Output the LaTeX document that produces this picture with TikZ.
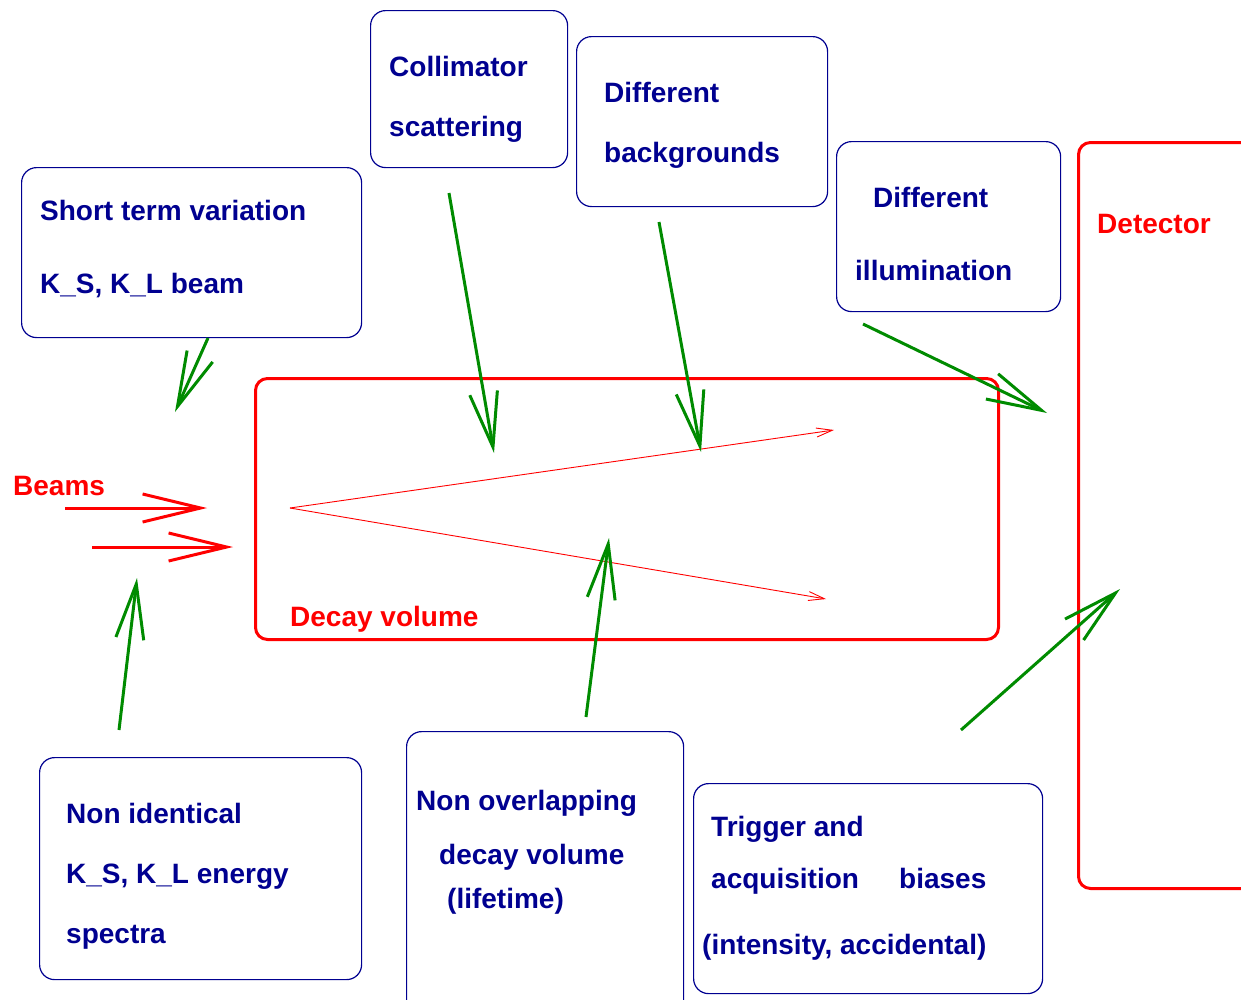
\documentclass[tikz,border=0pt]{standalone}
\usepackage{fontspec}
\setmainfont{Liberation Sans}
\usetikzlibrary{arrows.meta}
\definecolor{navy}{RGB}{0,0,144}
\definecolor{fgreen}{RGB}{0,139,0}
\begin{document}
\begin{tikzpicture}[x=1pt,y=-1pt,
  lbl/.style={anchor=base west, inner sep=0pt, font=\bfseries\fontsize{28}{34}\selectfont, text=navy},
  rlbl/.style={lbl, text=red},
  bbox/.style={draw=navy, line width=1.2pt, rounded corners=15pt, anchor=north west, inner sep=0pt},
  rbox/.style={draw=red, line width=3pt, rounded corners=12pt, anchor=north west, inner sep=0pt},
  garrow/.style={draw=fgreen, line width=3pt, -{Straight Barb[length=55pt,width=28pt]}},
  barrow/.style={draw=red, line width=3pt, -{Straight Barb[length=58pt,width=28pt]}},
  track/.style={draw=red, line width=0.9pt, -{Straight Barb[length=16pt,width=9pt]}}]
\useasboundingbox (0,0) rectangle (1241,999);

% boxes
\node[bbox, minimum width=340pt, minimum height=170pt] (b1) at (21,167) {};
\node[bbox, minimum width=197pt, minimum height=157pt] (b2) at (370,10) {};
\node[bbox, minimum width=251pt, minimum height=170pt] (b3) at (576,36) {};
\node[bbox, minimum width=224pt, minimum height=170pt] (b4) at (836,141) {};
\node[rbox, minimum width=200pt, minimum height=746pt] (det) at (1077,141) {};
\node[rbox, minimum width=743pt, minimum height=261pt] (dv) at (254,377) {};
\node[bbox, minimum width=322pt, minimum height=222pt] (b7) at (39,757) {};
\node[bbox, minimum width=277pt, minimum height=300pt] (b8) at (406,731) {};
\node[bbox, minimum width=349pt, minimum height=210pt] (b9) at (693,783) {};

% texts
\node[lbl] (t1a) at (40,220) {Short term variation};
\node[lbl] (t1b) at (40,293) {K\_S, K\_L beam};
\node[lbl] (t2a) at (389,76) {Collimator};
\node[lbl] (t2b) at (389,136) {scattering};
\node[lbl] (t3a) at (604,102) {Different};
\node[lbl] (t3b) at (604,162) {backgrounds};
\node[lbl] (t4a) at (873,207) {Different};
\node[lbl] (t4b) at (855,280) {illumination};
\node[rlbl] (tdet) at (1097,233) {Detector};
\node[rlbl] (tdv) at (290,626) {Decay volume};
\node[rlbl] (tbeam) at (13,495) {Beams};
\node[lbl] (t7a) at (66,823) {Non identical};
\node[lbl] (t7b) at (66,883) {K\_S, K\_L energy};
\node[lbl] (t7c) at (66,943) {spectra};
\node[lbl] (t8a) at (416,810) {Non overlapping};
\node[lbl] (t8b) at (439,864) {decay volume};
\node[lbl] (t8c) at (447,908) {(lifetime)};
\node[lbl] (t9a) at (711,836) {Trigger and};
\node[lbl] (t9b) at (711,888) {acquisition};
\node[lbl] (t9c) at (899,888) {biases};
\node[lbl] (t9d) at (702,954) {(intensity, accidental)};

% beams
\coordinate (bm1s) at (65,508);  \coordinate (bm1e) at (207,508);
\coordinate (bm2s) at (92,547);  \coordinate (bm2e) at (233,547);
\draw[barrow] (bm1s) -- (bm1e);
\draw[barrow] (bm2s) -- (bm2e);

% decay tracks
\coordinate (vtx) at (290,508);
\coordinate (tr1) at (834,430);
\coordinate (tr2) at (826,599);
\draw[track] (vtx) -- (tr1);
\draw[track] (vtx) -- (tr2);

% green arrows
\coordinate (g1s) at (208,338);  \coordinate (g1e) at (175,412);
\coordinate (g2s) at (449,193);  \coordinate (g2e) at (494,453);
\coordinate (g3s) at (659,222);  \coordinate (g3e) at (701,452);
\coordinate (g4s) at (863,324);  \coordinate (g4e) at (1047,413);
\coordinate (g5s) at (119,730);  \coordinate (g5e) at (137,578);
\coordinate (g6s) at (586,717);  \coordinate (g6e) at (609,538);
\coordinate (g7s) at (961,730);  \coordinate (g7e) at (1120,589);
\foreach \i in {1,...,7}{\draw[garrow] (g\i s) -- (g\i e);}
\end{tikzpicture}
\end{document}
